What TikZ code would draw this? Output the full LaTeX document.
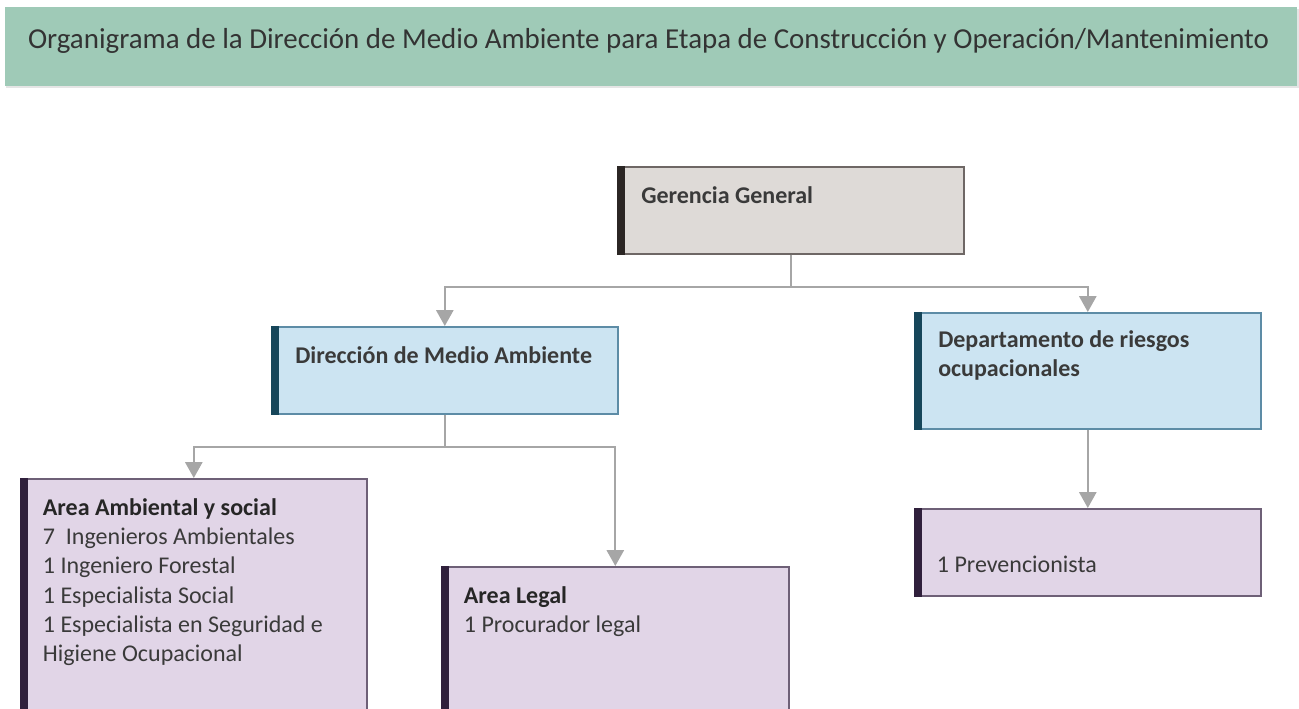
\documentclass[tikz,border=0pt]{standalone}
\usepackage{fontspec}
\setmainfont{Carlito}
\usepackage{tikz}
\usetikzlibrary{positioning,arrows.meta}

\definecolor{verdetit}{HTML}{9FCAB7}
\definecolor{grisfondo}{HTML}{DEDAD7}
\definecolor{grisborde}{HTML}{6E6765}
\definecolor{grisbarra}{HTML}{2B2624}
\definecolor{azulfondo}{HTML}{CCE4F2}
\definecolor{azulborde}{HTML}{5D8CA6}
\definecolor{azulbarra}{HTML}{16465A}
\definecolor{lilafondo}{HTML}{E1D5E7}
\definecolor{lilaborde}{HTML}{6E6077}
\definecolor{lilabarra}{HTML}{30203C}
\definecolor{flecha}{HTML}{A6A6A6}
\definecolor{texto}{HTML}{3A3A3A}

\begin{document}
\begin{tikzpicture}[x=0.75pt, y=-0.75pt,
    caja/.style 2 args={draw=#1, fill=#2, line width=1.2pt, inner sep=0pt, minimum width=259.5pt, anchor=north west},
    txt/.style={inner sep=0pt, anchor=base west, align=left, font=\fontsize{18}{22}\selectfont, text=texto},
    conn/.style={draw=flecha, line width=1.5pt, -{Triangle[width=13pt,length=12pt]}}]
    \useasboundingbox (0,0) rectangle (1299,708);
    \clip (0,0) rectangle (1299,708);
    % Titulo
    \fill[black!10] (6,9) rectangle (1299,88);
    \fill[verdetit] (5,7) rectangle (1297,86);
    \node[inner sep=0pt, anchor=base, font=\fontsize{21.7}{26}\selectfont, text=black!80] (titulo) at (648.5,48)
          {Organigrama de la Dirección de Medio Ambiente para Etapa de Construcción y Operación/Mantenimiento};
    % Cajas
    \node[caja={grisborde}{grisfondo}, minimum height=65.25pt] (gg) at (617,166) {};
    \node[caja={azulborde}{azulfondo}, minimum height=65.25pt] (dma) at (271,326) {};
    \node[caja={azulborde}{azulfondo}, minimum height=87pt] (dro) at (914,312) {};
    \node[caja={lilaborde}{lilafondo}, minimum height=225pt] (aas) at (20,478) {};
    \node[caja={lilaborde}{lilafondo}, minimum height=150pt, minimum width=260.25pt] (al) at (441,566) {};
    \node[caja={lilaborde}{lilafondo}, minimum height=65.25pt] (pre) at (914,508) {};
    \foreach \n/\c in {gg/grisbarra, dma/azulbarra, dro/azulbarra, aas/lilabarra, al/lilabarra, pre/lilabarra}
        \fill[\c] (\n.north west) rectangle ([xshift=6pt]\n.south west);
    % Textos (base = ultima linea)
    \node[txt] (tgg) at ([xshift=18pt,yshift=-27.75pt]gg.north west) {\textbf{Gerencia General}};
    \node[txt] (tdma) at ([xshift=18pt,yshift=-27.75pt]dma.north west) {\textbf{Dirección de Medio Ambiente}};
    \node[txt] (tdro) at ([xshift=18pt,yshift=-48.25pt]dro.north west) {\textbf{Departamento de riesgos}\\\textbf{ocupacionales}};
    \node[txt] (taas) at ([xshift=17pt,yshift=-137.75pt]aas.north west)
        {\textbf{\color{black!85}Area Ambiental y social}\\7\ \ Ingenieros Ambientales\\1 Ingeniero Forestal\\1 Especialista Social\\1 Especialista en Seguridad e\\Higiene Ocupacional};
    \node[txt] (tal) at ([xshift=17pt,yshift=-49.75pt]al.north west) {\textbf{\color{black!85}Area Legal}\\1 Procurador legal};
    \node[txt] (tpre) at ([xshift=17pt,yshift=-48pt]pre.north west) {1 Prevencionista};
    % Conectores
    \draw[conn] (gg.south) -- ++(0,32) -| (dma.north);
    \draw[conn] (gg.south) -- ++(0,32) -| (dro.north);
    \draw[conn] (dma.south) -- ++(0,32) -| (aas.north);
    \draw[conn] (dma.south) -- ++(0,32) -| (al.north);
    \draw[conn] (dro.south) -- (pre.north);
\end{tikzpicture}
\end{document}
